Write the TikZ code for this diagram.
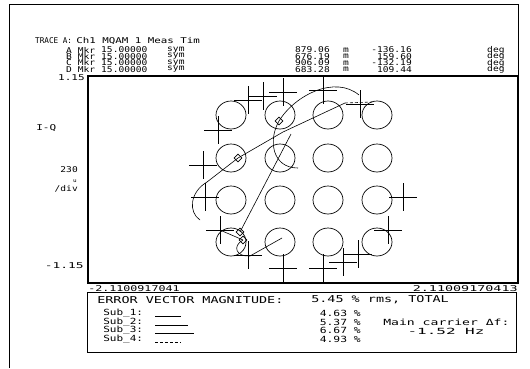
\documentclass[tikz,border=0pt]{standalone}
\usepackage{fontspec}
\newfontfamily\hpfont{DejaVu Sans Mono}
\usetikzlibrary{shapes.geometric}

\tikzset{
  hdr/.style={font=\hpfont\fontsize{8}{8}\selectfont, xscale=1.2, inner sep=0pt},
  big/.style={font=\hpfont\fontsize{9.5}{9.5}\selectfont, xscale=1.42, inner sep=0pt},
  sml/.style={font=\hpfont\fontsize{8.5}{8.5}\selectfont, xscale=1.3, inner sep=0pt},
  sym/.style={line width=0.7pt},
  crs/.style={line width=0.8pt},
  traj/.style={line width=0.6pt},
  mkr/.style={draw, diamond, line width=0.6pt, minimum size=8bp, inner sep=0pt}
}

\begin{document}
\begin{tikzpicture}[x=1bp,y=-1bp]
    \useasboundingbox (0,0) rectangle (530,368);
    % outer frame and plot area
    \draw[line width=0.9pt] (9,368) -- (9,4) -- (518,4) -- (518,76);
    \draw[line width=1.1pt] (88,76) rectangle (518,283);

    % header
    \node[hdr, anchor=west, xscale=0.8] (trace) at (35,41) {TRACE A:};
    \node[hdr, anchor=west, xscale=1.13] (meas) at (76,41) {Ch1 MQAM 1 Meas Tim};
    \foreach \m/\yy/\val/\ang in {A/50/879.06/-136.16, B/56.5/676.19/159.60,
                                  C/63/906.09/-132.19, D/69.5/683.28/109.44} {
      \node[hdr, anchor=west] at (66,\yy) {\m{} Mkr};
      \node[hdr, anchor=west] at (101,\yy) {15.00000};
      \node[hdr, anchor=west] at (167,\yy) {sym};
      \node[hdr, anchor=east] at (330,\yy) {\val};
      \node[hdr] at (346,\yy) {m};
      \node[hdr, anchor=east] at (412,\yy) {\ang};
      \node[hdr, anchor=west] at (487,\yy) {deg};
    }

    % axis labels
    \node[hdr, anchor=east, xscale=1.15] (ytop) at (85,78) {1.15};
    \node[hdr, anchor=west, xscale=1.15] (iq) at (36,128) {I-Q};
    \node[hdr, anchor=east] (ydiv) at (78,170) {230};
    \node[hdr, anchor=east, font=\hpfont\fontsize{5}{5}\selectfont] (yu) at (77,181) {u};
    \node[hdr, anchor=east] (ydiv2) at (78,189) {/div};
    \node[hdr, anchor=east, xscale=1.35] (ybot) at (84,266) {-1.15};
    \node[hdr, anchor=west, xscale=1.22] (xleft) at (88,289) {-2.1100917041};
    \node[hdr, anchor=east, xscale=1.4] (xright) at (518,289) {2.11009170413};

    % ideal symbol positions
    \foreach \cx in {231,280,328,377}
      \foreach \cy in {115,158,200,242}
        \draw[sym] (\cx,\cy) ellipse [x radius=15, y radius=14];

    % measured symbols
    \foreach \cx/\cy in {248/100, 263/96, 218/130, 203/165, 205/197, 220/230,
                         248/255, 283/268, 323/268, 343/262, 358/254, 388/230,
                         403/197, 283/92, 323/90, 360/104}
      \draw[crs] (\cx-14,\cy) -- (\cx+14,\cy) (\cx,\cy-14) -- (\cx,\cy+14);

    % markers
    \node[mkr] (mkrA) at (279,121) {};
    \node[mkr] (mkrB) at (238,158) {};
    \node[mkr] (mkrC) at (240,232) {};
    \node[mkr] (mkrD) at (243,240) {};

    % trace
    \draw[traj] (200,220) .. controls (188,212) and (190,192) .. (207,182)
      -- (mkrB.center) -- (283,132) -- (345,103);
    \draw[traj, densely dashed] (345,103) -- (372,102);
    \draw[traj] (mkrA.center) .. controls (295,95) and (335,75) .. (359,95);
    \draw[traj] (mkrA.center) .. controls (268,140) and (272,168) .. (298,168);
    \draw[traj] (291,134) -- (mkrC.center);
    \draw[traj] (220,230) -- (mkrD.center);
    \draw[traj] (mkrD.center) .. controls (232,246) and (236,257) .. (250,256) -- (282,238);

    % error vector magnitude box
    \draw[line width=0.9pt] (87,292) rectangle (516,352);
    \node[big, anchor=west] (evm) at (97,300) {ERROR VECTOR MAGNITUDE:};
    \node[big, anchor=west] (total) at (311,300) {5.45 \% rms, TOTAL};
    \foreach \s/\yy/\len/\val in {1/313/26/4.63, 2/322/33/5.37, 3/330/39/6.67} {
      \node[sml, anchor=west] at (103,\yy) {Sub\_\s:};
      \draw[line width=0.7pt] (155,\yy+3) -- +(\len,0);
      \node[sml, anchor=east, xscale=1.03] at (361,\yy) {\val{} \%};
    }
    \node[sml, anchor=west] (sub4) at (103,339) {Sub\_4:};
    \draw[line width=0.7pt, densely dashed] (155,342) -- (181,342);
    \node[sml, anchor=east, xscale=1.03] (val4) at (361,339) {4.93 \%};
    \node[sml, anchor=west, xscale=1.19] (carrier) at (383,322) {Main carrier Δf:};
    \node[sml, xscale=1.45] (hz) at (446,331) {-1.52 Hz};
\end{tikzpicture}
\end{document}
